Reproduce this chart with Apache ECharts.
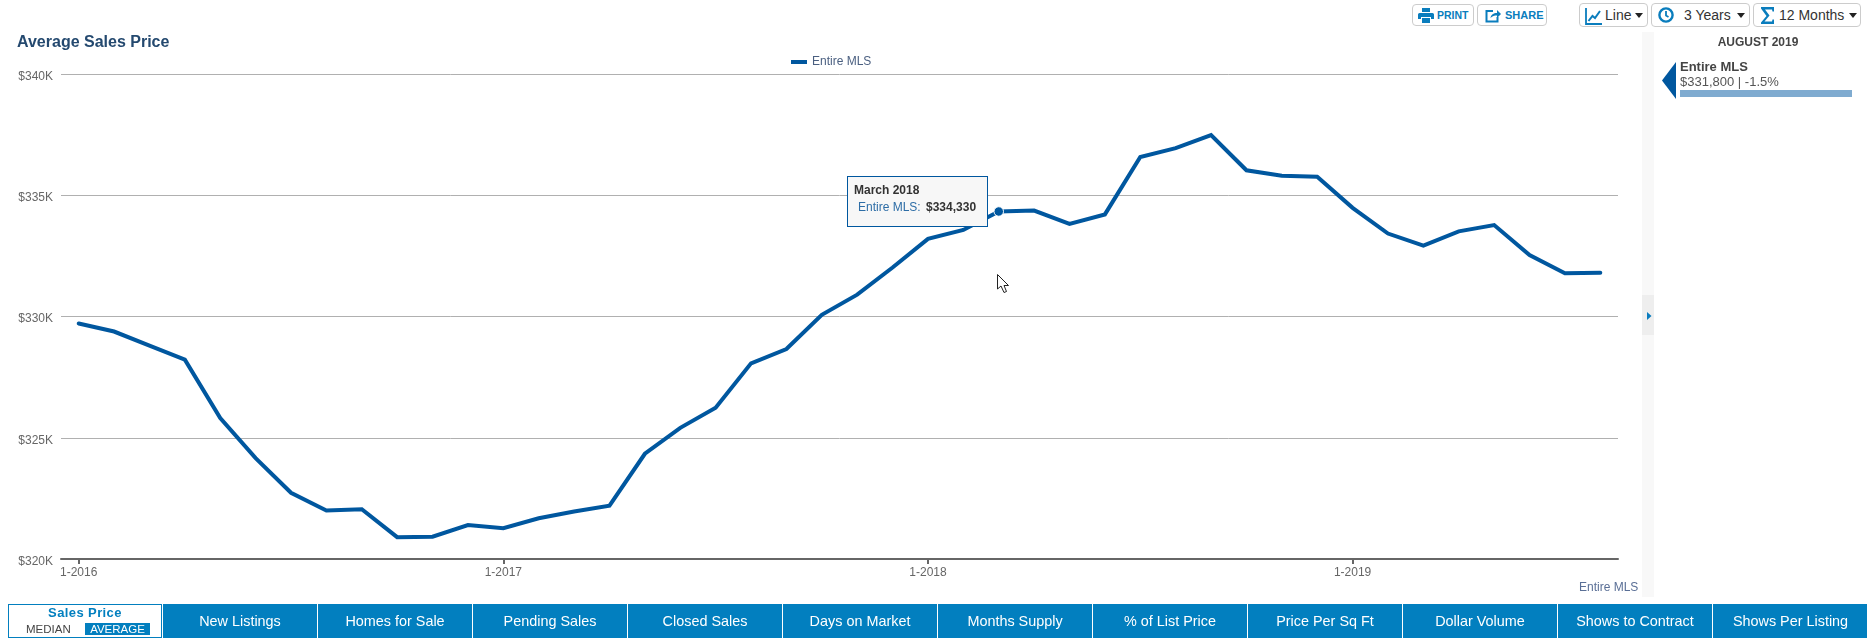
<!DOCTYPE html>
<html>
<head>
<meta charset="utf-8">
<title>Average Sales Price</title>
<script src="https://cdn.jsdelivr.net/npm/echarts@6/dist/echarts.min.js"></script>
<style>
  html, body { margin: 0; padding: 0; background: #fff; overflow: hidden; }
  body { width: 1867px; height: 639px; position: relative; font-family: "Liberation Sans", Arial, sans-serif; }
  #chart { position: absolute; left: 0; top: 0; width: 1867px; height: 639px; }
  .abs { position: absolute; white-space: nowrap; }

  /* toolbar */
  .btn { position: absolute; box-sizing: border-box; border: 1px solid #ccc; border-radius: 4px; background: #fff; }
  .btn svg, .btn span, .btn i { position: absolute; }
  .btn span { white-space: nowrap; line-height: 1; }
  .small span { font-size: 11px; font-weight: bold; color: #0a7dbd; top: 5px; }
  .big span { font-size: 14px; color: #333; top: 4px; }
  .caret { width: 0; height: 0; border-left: 4.5px solid transparent; border-right: 4.5px solid transparent; border-top: 5px solid #222; top: 9px; }

  /* side panel */
  #strip { position: absolute; left: 1642px; top: 32px; width: 12px; height: 565px; background: #f8f8f8; }
  #handle { position: absolute; left: 1642px; top: 295px; width: 12px; height: 40px; background: #eee; }

  /* bottom tabs */
  #active { position: absolute; box-sizing: border-box; left: 8px; top: 604px; width: 154px; height: 34px; border: 1px solid #027fbf; background: #fff; }
  #tabs { position: absolute; left: 163px; top: 604px; height: 34px; display: flex; }
  .tab { box-sizing: border-box; width: 155px; height: 34px; line-height: 34px; text-align: center; background: #027fbf; color: #fff; font-size: 14.4px; border-right: 1px solid #fff; }
  .tab:last-child { border-right: 0; }
  .tip { font-size: 12px; line-height: 14px; position: relative; height: 49px; }
  .tip div { position: absolute; white-space: nowrap; }
</style>
</head>
<body>
<div id="chart"></div>

<!-- toolbar -->
<div class="btn small" style="left:1412px;top:4px;width:62px;height:22px">
  <svg style="left:5px;top:3px" width="16" height="15" viewBox="0 0 16 15" fill="#0a7dbd"><path d="M4 0h8v4H4zM1.5 5h13A1.5 1.5 0 0 1 16 6.5V11h-3V9H3v2H0V6.500A1.500 1.500 0 0 1 1.500 5zM4 10h8v5H4z"/></svg>
  <span style="left:24px;font-size:10.500px">PRINT</span>
</div>
<div class="btn small" style="left:1477px;top:4px;width:70px;height:22px">
  <svg style="left:7px;top:3px" width="17" height="15" viewBox="0 0 17 15" fill="none" stroke="#0a7dbd" stroke-width="2"><path d="M8 3H1.500v10.500h11V9"/><path d="M5.500 10c.5-3.500 3-5 6.500-5V2l4 4-4 4V7.500c-2.500 0-4.500.5-6.500 2.500z" fill="#0a7dbd" stroke="none"/></svg>
  <span style="left:27px">SHARE</span>
</div>
<div class="btn big" style="left:1579px;top:3px;width:69px;height:24px">
  <svg style="left:5px;top:4px" width="17" height="17" viewBox="0 0 17 17" fill="none" stroke="#0a7dbd" stroke-width="1.800"><path d="M1 0v16h16"/><path d="M3.500 13l4-5 2.500 2 5-7" stroke-width="2"/></svg>
  <span style="left:25px">Line</span><i class="caret" style="left:55px"></i>
</div>
<div class="btn big" style="left:1651px;top:3px;width:99px;height:24px">
  <svg style="left:6px;top:3px" width="16" height="16" viewBox="0 0 16 16" fill="none" stroke="#0a7dbd" stroke-width="2.400"><circle cx="8" cy="8" r="6.600"/><path d="M8 4v4.500l2.500 1.500" stroke-width="1.800"/></svg>
  <span style="left:32px">3 Years</span><i class="caret" style="left:85px"></i>
</div>
<div class="btn big" style="left:1753px;top:3px;width:108px;height:24px">
  <svg style="left:7px;top:3px" width="13" height="17" viewBox="0 0 13 17" fill="#0a7dbd"><path d="M0 0h13v4.500h-1.500L11 2.500H4l4.500 6L3.500 14.500H11l.5-2H13V17H0v-1.500L5.500 9 0 1.500z"/></svg>
  <span style="left:25px">12 Months</span><i class="caret" style="left:95px"></i>
</div>

<!-- side panel -->
<div id="strip"></div>
<div id="handle"></div>
<svg class="abs" style="left:1647px;top:312px" width="5" height="8"><path d="M0 0l4.500 4L0 8z" fill="#0a7cbf"/></svg>
<div class="abs" id="panelMonth" style="left:1658px;width:200px;top:35px;text-align:center;font-size:12px;font-weight:bold;color:#444"></div>
<svg class="abs" style="left:1662px;top:62px" width="14" height="37"><path d="M14 0L0 18.500 14 37z" fill="#00579f"/></svg>
<div class="abs" id="panelName" style="left:1680px;top:59px;font-size:13px;font-weight:bold;color:#444"></div>
<div class="abs" id="panelValue" style="left:1680px;top:74px;font-size:13px;color:#555"></div>
<div class="abs" style="left:1680px;top:90px;width:172px;height:7px;background:#7fabd0"></div>

<!-- bottom tabs -->
<div id="active">
  <div class="abs" id="activeName" style="left:0;width:152px;top:0;text-align:center;font-size:13px;font-weight:bold;letter-spacing:.4px;color:#027fbf"></div>
  <div class="abs" id="subA" style="left:17px;top:18px;font-size:11.500px;color:#444"></div>
  <div class="abs" id="subB" style="left:76px;top:18px;width:65px;height:12px;line-height:12px;text-align:center;font-size:11.500px;color:#fff;background:#027fbf"></div>
</div>
<div id="tabs"></div>

<script>
// 12 months rolling average sales price, Entire MLS
const CATEGORIES = [
  "1-2016", "2-2016", "3-2016", "4-2016", "5-2016", "6-2016", "7-2016", "8-2016", "9-2016", "10-2016", "11-2016", "12-2016",
  "1-2017", "2-2017", "3-2017", "4-2017", "5-2017", "6-2017", "7-2017", "8-2017", "9-2017", "10-2017", "11-2017", "12-2017",
  "1-2018", "2-2018", "3-2018", "4-2018", "5-2018", "6-2018", "7-2018", "8-2018", "9-2018", "10-2018", "11-2018", "12-2018",
  "1-2019", "2-2019", "3-2019", "4-2019", "5-2019", "6-2019", "7-2019", "8-2019",
];
const ENTIRE_MLS = [
  329710, 329380, 328800, 328220, 325810, 324160, 322730, 322000, 322050, 320900, 320920, 321400,
  321270, 321680, 321960, 322200, 324340, 325410, 326240, 328070, 328660, 330070, 330900, 332020,
  333200, 333570, 334330, 334370, 333820, 334210, 336580, 336940, 337480, 336030, 335800, 335760,
  334480, 333420, 332920, 333510, 333770, 332530, 331780, 331800,
];
const SERIES_NAME = "Entire MLS";
const TITLE = "Average Sales Price";
const TIP_INDEX = 26;
const TIP_MONTH = "March 2018";
const PANEL_MONTH = "AUGUST 2019";
const PANEL_VALUE = "$331,800 | -1.5%";
const ACTIVE_TAB = "Sales Price";
const ACTIVE_SUB = ["MEDIAN", "AVERAGE"];
const TABS = [
  "New Listings", "Homes for Sale", "Pending Sales", "Closed Sales", "Days on Market", "Months Supply",
  "% of List Price", "Price Per Sq Ft", "Dollar Volume", "Shows to Contract", "Shows Per Listing",
];

const BLUE = "#00579f";
const FONT = '"Liberation Sans", Arial, sans-serif';

// 화면 주변 UI 텍스트
document.getElementById("panelMonth").textContent = PANEL_MONTH;
document.getElementById("panelName").textContent = SERIES_NAME;
document.getElementById("panelValue").textContent = PANEL_VALUE;
document.getElementById("activeName").textContent = ACTIVE_TAB;
document.getElementById("subA").textContent = ACTIVE_SUB[0];
document.getElementById("subB").textContent = ACTIVE_SUB[1];
document.getElementById("tabs").innerHTML = TABS.map((t) => `<div class="tab">${t}</div>`).join("");

const chart = echarts.init(document.getElementById("chart"), null, { renderer: "canvas" });

chart.setOption({
  animation: false,
  backgroundColor: "#fff",
  textStyle: { fontFamily: FONT },
  title: {
    text: TITLE, left: 17, top: 34.5, padding: 0,
    textStyle: { fontFamily: FONT, fontSize: 16, fontWeight: "bold", color: "#24496f" },
  },
  legend: {
    data: [SERIES_NAME], left: 791, top: 56, padding: 0,
    icon: "rect", itemWidth: 16, itemHeight: 4, selectedMode: false,
    textStyle: { fontFamily: FONT, fontSize: 12, color: "#4a5f80" },
  },
  tooltip: {
    trigger: "item",
    alwaysShowContent: true,
    transitionDuration: 0,
    position: [847, 176],
    backgroundColor: "#f7f7f7",
    borderColor: BLUE,
    borderWidth: 1,
    padding: 0,
    extraCssText: "box-shadow:none;border-radius:0;box-sizing:border-box;width:141px;height:51px;",
    formatter: (p) => `<div class="tip">
      <div style="left:6px;top:6px;font-weight:bold;color:#333">${TIP_MONTH}</div>
      <div style="left:10px;top:23px;color:#2d6da6">${SERIES_NAME}:</div>
      <div style="left:78px;top:23px;font-weight:bold;color:#333">$${p.value.toLocaleString("en-US")}</div>
    </div>`,
  },
  grid: { left: 61, right: 249, top: 74, bottom: 80, containLabel: false },
  xAxis: {
    type: "category",
    data: CATEGORIES,
    boundaryGap: true,
    axisLine: { lineStyle: { color: "#666", width: 2 } },
    axisTick: { show: true, alignWithLabel: true, interval: 11, length: 5, lineStyle: { color: "#666", width: 2 } },
    axisLabel: { interval: 11, fontSize: 12, color: "#666", margin: 8, fontFamily: FONT },
    splitLine: { show: false },
  },
  yAxis: {
    type: "value",
    min: 320000,
    max: 340000,
    interval: 5000,
    axisLine: { show: false },
    axisTick: { show: false },
    axisLabel: {
      margin: 8,
      // 라벨을 눈금선보다 살짝 아래로 내린다
      formatter: (v) => `{p|$${v / 1000}K}`,
      rich: { p: { fontFamily: FONT, fontSize: 12, color: "#666", padding: [5, 0, 0, 0] } },
    },
    splitLine: { lineStyle: { color: "#b0b0b0", width: 1 } },
  },
  series: [{
    name: SERIES_NAME,
    type: "line",
    symbol: "none",
    showSymbol: true,
    lineStyle: { color: BLUE, width: 4, cap: "round", join: "miter" },
    itemStyle: { color: BLUE },
    emphasis: { disabled: true },
    data: ENTIRE_MLS.map((v, i) => (i === TIP_INDEX
      ? { value: v, symbol: "circle", symbolSize: 9.5, itemStyle: { color: BLUE, borderColor: "#fff", borderWidth: 1 } }
      : v)),
  }],
  graphic: [
    {
      type: "text", left: 1579, top: 582,
      style: { text: SERIES_NAME, fontFamily: FONT, fontSize: 12, fill: "#5a6f96" },
    },
    {
      // 마우스 커서
      type: "polygon", x: 997, y: 274, z: 100,
      shape: { points: [[0.5, 0.5], [0.5, 15], [4, 12], [7, 18.500], [9.500, 17.500], [7, 11.500], [11.500, 11.500]] },
      style: { fill: "#fff", stroke: "#222", lineWidth: 1 },
    },
  ],
});

chart.dispatchAction({ type: "showTip", seriesIndex: 0, dataIndex: TIP_INDEX });
</script>
</body>
</html>
